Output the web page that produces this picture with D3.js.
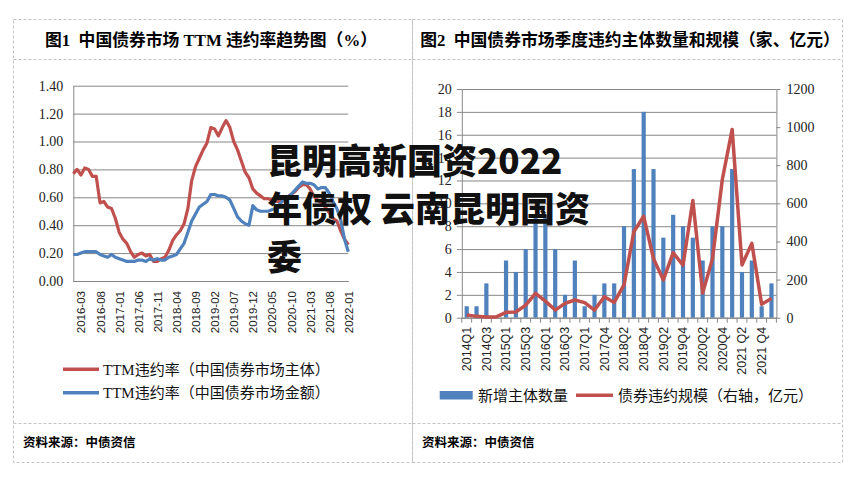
<!DOCTYPE html>
<html><head><meta charset="utf-8">
<script src="https://cdn.jsdelivr.net/npm/d3@7"></script>
<style>body{margin:0;background:#fff} svg{display:block}</style>
</head><body>
<svg id="c" width="856" height="480"></svg>
<script>
// ---------- Chart 1 data (monthly, 2016-01 .. 2022-01) ----------
const ttmMonths = d3.timeMonth.range(new Date(2016,0,1), new Date(2022,1,1)).map(d3.timeFormat("%Y-%m"));
const ttmTickLabels = ["2016-03","2016-08","2017-01","2017-06","2017-11","2018-04","2018-09","2019-02","2019-07","2019-12","2020-05","2020-10","2021-03","2021-08","2022-01"];
const ttmYTicks = [0,0.2,0.4,0.6,0.8,1.0,1.2,1.4];
const ttmIssuer = [0.77,0.80,0.76,0.81,0.80,0.75,0.75,0.56,0.57,0.53,
  0.52,0.45,0.35,0.30,0.27,0.21,0.17,0.19,0.20,0.18,
  0.19,0.14,0.14,0.16,0.17,0.22,0.29,0.33,0.36,0.41,
  0.52,0.72,0.82,0.88,0.94,0.99,1.10,1.09,1.04,1.10,
  1.15,1.10,1.00,0.94,0.86,0.78,0.74,0.66,0.63,0.61,
  0.59,0.59,0.58,0.57,0.57,0.58,0.60,0.62,0.64,0.67,
  0.69,0.69,0.66,0.61,0.58,0.56,0.53,0.49,0.45,0.43,
  0.36,0.30,0.26];
const ttmAmount = [0.19,0.19,0.20,0.21,0.21,0.21,0.21,0.19,0.18,0.17,
  0.19,0.17,0.16,0.15,0.14,0.14,0.14,0.15,0.15,0.14,
  0.16,0.15,0.16,0.15,0.15,0.17,0.18,0.19,0.23,0.27,
  0.35,0.43,0.48,0.53,0.55,0.57,0.62,0.62,0.61,0.61,
  0.60,0.58,0.52,0.46,0.43,0.41,0.40,0.54,0.51,0.50,
  0.50,0.50,0.51,0.52,0.55,0.58,0.60,0.62,0.65,0.68,
  0.71,0.70,0.70,0.69,0.66,0.67,0.67,0.63,0.57,0.52,
  0.44,0.30,0.21];
const ttmLegend = ["TTM违约率（中国债券市场主体）","TTM违约率（中国债券市场金额）"];

// ---------- Chart 2 data (quarterly) ----------
const quarters = ["2014Q1","2014Q2","2014Q3","2014Q4","2015Q1","2015Q2","2015Q3","2015Q4",
  "2016Q1","2016Q2","2016Q3","2016Q4","2017Q1","2017Q2","2017Q4","2018Q1",
  "2018Q2","2018Q3","2018Q4","2019Q1","2019Q2","2019Q3","2019Q4","2020Q1",
  "2020Q2","2020Q3","2020Q4","2021 Q1","2021 Q2","2021 Q3","2021 Q4","2022 Q1"];
const newDefaulters = [1,1,3,0,5,4,6,9,9,6,2,5,1,2,3,3,8,13,18,13,7,9,8,7,5,8,8,13,4,5,1,3];
const defaultAmount = [14,7,4,4,28,30,66,128,87,40,75,93,79,40,110,80,172,451,532,310,198,341,275,615,129,310,725,988,277,390,70,101];
const leftTicks = [0,2,4,6,8,10,12,14,16,18,20];
const rightTicks = [0,200,400,600,800,1000,1200];
const chart2Legend = ["新增主体数量","债券违约规模（右轴，亿元）"];

const titles = ["图1  中国债券市场 TTM 违约率趋势图（%）","图2  中国债券市场季度违约主体数量和规模（家、亿元）"];
const sourceText = "资料来源：中债资信";
const watermark = ["昆明高新国资2022","年债权 云南昆明国资","委"];

const RED = "#C0504D", BLUE = "#4F81BD", GRID = "#878787";
const SERIF = "'Liberation Serif','Noto Sans CJK SC',serif";
const SANS = "'Liberation Sans','Noto Sans CJK SC',sans-serif";
const CJK = "'Liberation Serif','Noto Sans CJK SC',sans-serif";

const svg = d3.select("#c");

// ---------- panel frames ----------
const frame = svg.append("g").attr("fill","none").attr("stroke","#c4c4c4").attr("stroke-dasharray","3,2");
[[13.5,412.5],[412.5,842.5]].forEach(([x0,x1])=>{
  frame.append("rect").attr("x",x0).attr("y",19.5).attr("width",x1-x0).attr("height",443);
  frame.append("line").attr("x1",x0).attr("x2",x1).attr("y1",59.5).attr("y2",59.5);
  frame.append("line").attr("x1",x0).attr("x2",x1).attr("y1",423.5).attr("y2",423.5);
});

// titles
[[211,titles[0]],[630,titles[1]]].forEach(([cx,t])=>{
  svg.append("text").attr("x",cx).attr("y",40).attr("dy","0.35em").attr("text-anchor","middle")
    .style("white-space","pre").attr("font-family",SERIF).attr("font-weight","bold")
    .attr("font-size",16.8).attr("fill","#000").text(t);
});
// sources
[23,422].forEach(x=>{
  svg.append("text").attr("x",x).attr("y",443).attr("dy","0.35em").attr("font-family",CJK)
    .attr("font-weight","bold").attr("font-size",12.5).attr("fill","#000").text(sourceText);
});

// ---------- Chart 1 ----------
const p1 = {l:73.3, r:348.3, t:85.7, b:281};
const x1 = d3.scalePoint().domain(ttmMonths).range([p1.l,p1.r]);
const y1 = d3.scaleLinear().domain([0,1.4]).range([p1.b,p1.t]);
const g1 = svg.append("g");

g1.append("g").attr("transform",`translate(${p1.l},0)`)
  .call(d3.axisLeft(y1).tickValues(ttmYTicks).tickSize(-(p1.r-p1.l)).tickFormat(""))
  .call(g=>g.select(".domain").remove())
  .call(g=>g.selectAll("line").attr("stroke",GRID));
g1.append("g").attr("transform",`translate(${p1.l},0)`)
  .call(d3.axisLeft(y1).tickValues(ttmYTicks).tickSize(0).tickPadding(10).tickFormat(d3.format(".2f")))
  .call(g=>g.select(".domain").attr("stroke",GRID))
  .call(g=>g.selectAll("text").attr("font-family",SERIF).attr("font-size",14).attr("fill","#222"));

g1.append("g").attr("transform",`translate(0,${p1.b})`)
  .call(d3.axisBottom(x1).tickValues(ttmTickLabels).tickSize(0).tickPadding(0))
  .call(g=>g.select(".domain").attr("stroke",GRID))
  .call(g=>g.selectAll("text").attr("transform","translate(0,10) rotate(-90)")
    .attr("text-anchor","end").attr("dy","0.35em").attr("dx",0).attr("y",0)
    .attr("font-family",SANS).attr("font-size",11.5).attr("fill","#222"));

const line1 = d3.line().x((d,i)=>x1(ttmMonths[i])).y(d=>y1(d));
g1.append("path").datum(ttmIssuer).attr("d",line1).attr("fill","none").attr("stroke",RED)
  .attr("stroke-width",3.2).attr("stroke-linejoin","round");
g1.append("path").datum(ttmAmount).attr("d",line1).attr("fill","none").attr("stroke",BLUE)
  .attr("stroke-width",3.2).attr("stroke-linejoin","round");

// legend 1
[[RED,ttmLegend[0],369.3],[BLUE,ttmLegend[1],392.7]].forEach(([c,t,y])=>{
  g1.append("line").attr("x1",63).attr("x2",99).attr("y1",y).attr("y2",y).attr("stroke",c).attr("stroke-width",3.5);
  g1.append("text").attr("x",103).attr("y",y).attr("dy","0.35em").attr("font-family",CJK)
    .attr("font-size",15).attr("fill","#111").text(t);
});

// ---------- Chart 2 ----------
const p2 = {l:461.8, r:776.4, t:89, b:317.7};
const x2 = d3.scaleBand().domain(quarters).range([p2.l,p2.r]);
const yL = d3.scaleLinear().domain([0,20]).range([p2.b,p2.t]);
const yR = d3.scaleLinear().domain([0,1200]).range([p2.b,p2.t]);
const g2 = svg.append("g");

g2.append("g").attr("transform",`translate(${p2.l},0)`)
  .call(d3.axisLeft(yL).tickValues(leftTicks).tickSize(-(p2.r-p2.l)).tickFormat(""))
  .call(g=>g.select(".domain").remove())
  .call(g=>g.selectAll("line").attr("stroke",GRID));
g2.append("g").attr("transform",`translate(${p2.l},0)`)
  .call(d3.axisLeft(yL).tickValues(leftTicks).tickSizeInner(5).tickSizeOuter(0).tickPadding(5))
  .call(g=>g.selectAll("line,.domain").attr("stroke",GRID))
  .call(g=>g.selectAll("text").attr("font-family",SERIF).attr("font-size",14).attr("fill","#222"));
g2.append("g").attr("transform",`translate(${p2.r},0)`)
  .call(d3.axisRight(yR).tickValues(rightTicks).tickSizeInner(4).tickSizeOuter(0).tickPadding(6).tickFormat(d3.format("d")))
  .call(g=>g.selectAll("line,.domain").attr("stroke",GRID))
  .call(g=>g.selectAll("text").attr("font-family",SERIF).attr("font-size",14).attr("fill","#222"));

// bars
g2.append("g").selectAll("rect").data(newDefaulters).join("rect")
  .attr("x",(d,i)=>x2(quarters[i])+x2.bandwidth()/2-2.1).attr("width",4.2)
  .attr("y",d=>yL(d)).attr("height",d=>p2.b-yL(d)).attr("fill",BLUE);

// bottom axis
g2.append("g").attr("transform",`translate(0,${p2.b})`)
  .call(d3.axisBottom(x2).tickValues(quarters.filter((q,i)=>i%2===0)).tickSize(0).tickPadding(0))
  .call(g=>g.select(".domain").attr("stroke",GRID))
  .call(g=>g.selectAll("text").attr("transform","translate(0,9) rotate(-90)")
    .attr("text-anchor","end").attr("dy","0.35em").attr("y",0)
    .attr("font-family",SANS).attr("font-size",12.5).attr("fill","#222"));
g2.append("g").selectAll("line").data(quarters.concat(["end"])).join("line")
  .attr("x1",(d,i)=>p2.l+i*x2.step()).attr("x2",(d,i)=>p2.l+i*x2.step())
  .attr("y1",p2.b).attr("y2",p2.b+5).attr("stroke",GRID);

// line (right axis)
const line2 = d3.line().x((d,i)=>x2(quarters[i])+x2.bandwidth()/2).y(d=>yR(d));
g2.append("path").datum(defaultAmount).attr("d",line2).attr("fill","none").attr("stroke",RED)
  .attr("stroke-width",3.5).attr("stroke-linejoin","round");

// legend 2
g2.append("rect").attr("x",439.7).attr("y",391).attr("width",33).attr("height",8.5).attr("fill",BLUE);
g2.append("text").attr("x",478).attr("y",395.3).attr("dy","0.35em").attr("font-family",CJK)
  .attr("font-size",15).attr("fill","#111").text(chart2Legend[0]);
g2.append("line").attr("x1",576).attr("x2",613).attr("y1",395.3).attr("y2",395.3).attr("stroke",RED).attr("stroke-width",3.5);
g2.append("text").attr("x",618).attr("y",395.3).attr("dy","0.35em").attr("font-family",CJK)
  .attr("font-size",15).attr("fill","#111").text(chart2Legend[1]);

// ---------- watermark ----------
const wm = svg.append("text").attr("font-family","'Noto Sans CJK SC',sans-serif").attr("font-weight","900")
  .attr("font-size",35).attr("fill","#111").style("white-space","pre");
[174,222,270].forEach((y,i)=>wm.append("tspan").attr("x",267).attr("y",y).text(watermark[i]));
</script>
</body></html>
